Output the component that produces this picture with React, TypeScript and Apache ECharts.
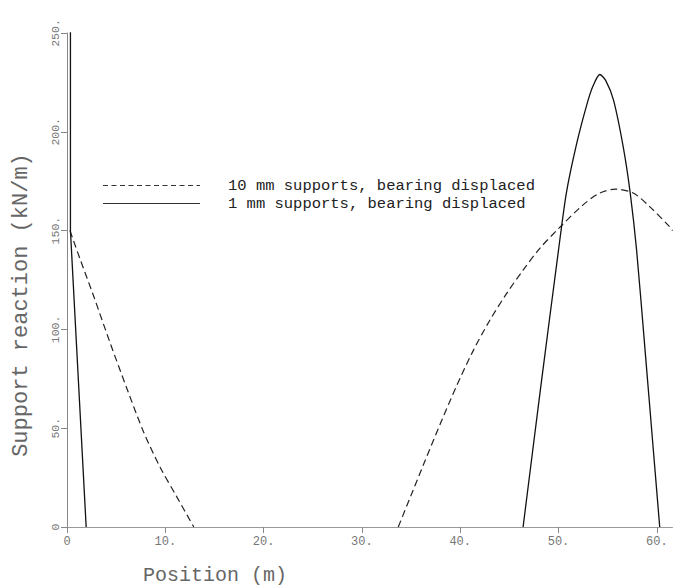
import React, { useEffect, useRef } from "react";
import * as echarts from "echarts";

// Dashed series: 10 mm supports, bearing displaced
const dashedLeftX = [0.3, 1.3, 2.7, 4.4, 6.1, 7.8, 9.5, 11.2, 12.9];
const dashedLeftY = [150, 136, 117, 93, 70, 48, 30, 15, 0];
const dashedRightX = [33.7, 35, 36.3, 38, 39.6, 41.3, 43, 44.7, 46.4, 48.1, 50, 52.5, 54.2, 55.8, 57.6, 59.3, 61.3, 61.6];
const dashedRightY = [0, 16, 32, 52.5, 71, 89, 104.5, 118, 130, 141, 151, 163, 169, 171, 169, 162, 152, 150];

// Solid series: 1 mm supports, bearing displaced
const solidLeftX = [0.35, 0.35, 1.95];
const solidLeftY = [260, 150, 0];
const solidHumpX = [46.4, 48.2, 50.0, 50.8, 51.85, 52.9, 53.5, 54.2, 54.8, 55.6, 56.6, 57.3, 57.95, 58.8, 59.65, 60.3];
const solidHumpY = [0, 71, 140, 169, 194, 214, 223, 229, 226, 216, 192, 169, 140, 90, 39, 0];

const seriesNames = ["10 mm supports, bearing displaced", "1 mm supports, bearing displaced"];
const xTicks = [0, 10, 20, 30, 40, 50, 60];
const xTitle = "Position (m)";
const yTitle = "Support reaction (kN/m)";

const zip = (xs: number[], ys: number[]) => xs.map((x, i) => [x, ys[i]]);
const fmt = (v: number) => (v === 0 ? "0" : v + ".");
const FONT = "Liberation Mono";
const DASH = [7, 4];

export default function App() {
  const ref = useRef<HTMLDivElement>(null);
  useEffect(() => {
    if (!ref.current) return;
    const chart = echarts.init(ref.current, null, { renderer: "svg" });
    const dashedStyle = { type: DASH, width: 1.2, color: "#222" };
    const solidStyle = { type: "solid", width: 1.3, color: "#111" };
    const legendText = (text: string, y: number) => ({
      type: "text",
      x: 228,
      y,
      style: { text, fontFamily: FONT, fontSize: 15.5, fill: "#222", align: "left", verticalAlign: "middle" },
    });
    chart.setOption({
      animation: false,
      backgroundColor: "#ffffff",
      grid: { left: 67, top: 33, width: 605.5, height: 494, containLabel: false },
      xAxis: {
        type: "value",
        min: 0,
        max: 61.6,
        interval: 10,
        splitLine: { show: false },
        axisLine: { show: true, lineStyle: { color: "#999", width: 1 } },
        axisTick: { show: true, length: 6, lineStyle: { color: "#888" }, customValues: xTicks },
        axisLabel: {
          customValues: xTicks,
          formatter: fmt,
          fontFamily: FONT,
          fontSize: 12,
          color: "#777",
          margin: 9,
        },
      },
      yAxis: {
        type: "value",
        min: 0,
        max: 250,
        interval: 50,
        splitLine: { show: false },
        axisLine: { show: true, lineStyle: { color: "#888", width: 1 } },
        axisTick: { show: true, length: 6, lineStyle: { color: "#888" } },
        axisLabel: {
          rotate: 90,
          formatter: fmt,
          fontFamily: FONT,
          fontSize: 11.5,
          color: "#777",
          margin: 6,
        },
      },
      graphic: [
        {
          type: "text",
          x: 215,
          y: 575,
          style: { text: xTitle, fontFamily: FONT, fontSize: 20, fill: "#666", align: "center", verticalAlign: "middle" },
        },
        {
          type: "text",
          x: 21,
          y: 305,
          rotation: Math.PI / 2,
          style: { text: yTitle, fontFamily: FONT, fontSize: 22, fill: "#666", align: "center", verticalAlign: "middle" },
        },
        {
          type: "line",
          shape: { x1: 103, y1: 185.5, x2: 200, y2: 185.5 },
          style: { stroke: "#333", lineWidth: 1, lineDash: [5, 3.5] },
        },
        {
          type: "line",
          shape: { x1: 103, y1: 203.5, x2: 200, y2: 203.5 },
          style: { stroke: "#333", lineWidth: 1 },
        },
        legendText(seriesNames[0], 186),
        legendText(seriesNames[1], 204),
      ],
      series: [
        {
          name: seriesNames[0],
          type: "line",
          data: zip(dashedLeftX, dashedLeftY),
          symbol: "none",
          smooth: 0.3,
          lineStyle: dashedStyle,
        },
        {
          name: seriesNames[0],
          type: "line",
          data: zip(dashedRightX, dashedRightY),
          symbol: "none",
          smooth: 0.3,
          lineStyle: dashedStyle,
        },
        {
          name: seriesNames[1],
          type: "line",
          data: zip(solidLeftX, solidLeftY),
          symbol: "none",
          smooth: false,
          lineStyle: solidStyle,
        },
        {
          name: seriesNames[1],
          type: "line",
          data: zip(solidHumpX, solidHumpY),
          symbol: "none",
          smooth: 0.25,
          lineStyle: solidStyle,
        },
      ],
    });
    return () => chart.dispose();
  }, []);
  return (
    <div
      ref={ref}
      style={{ position: "absolute", left: 0, top: 0, width: 674, height: 588, background: "#fff" }}
    />
  );
}
